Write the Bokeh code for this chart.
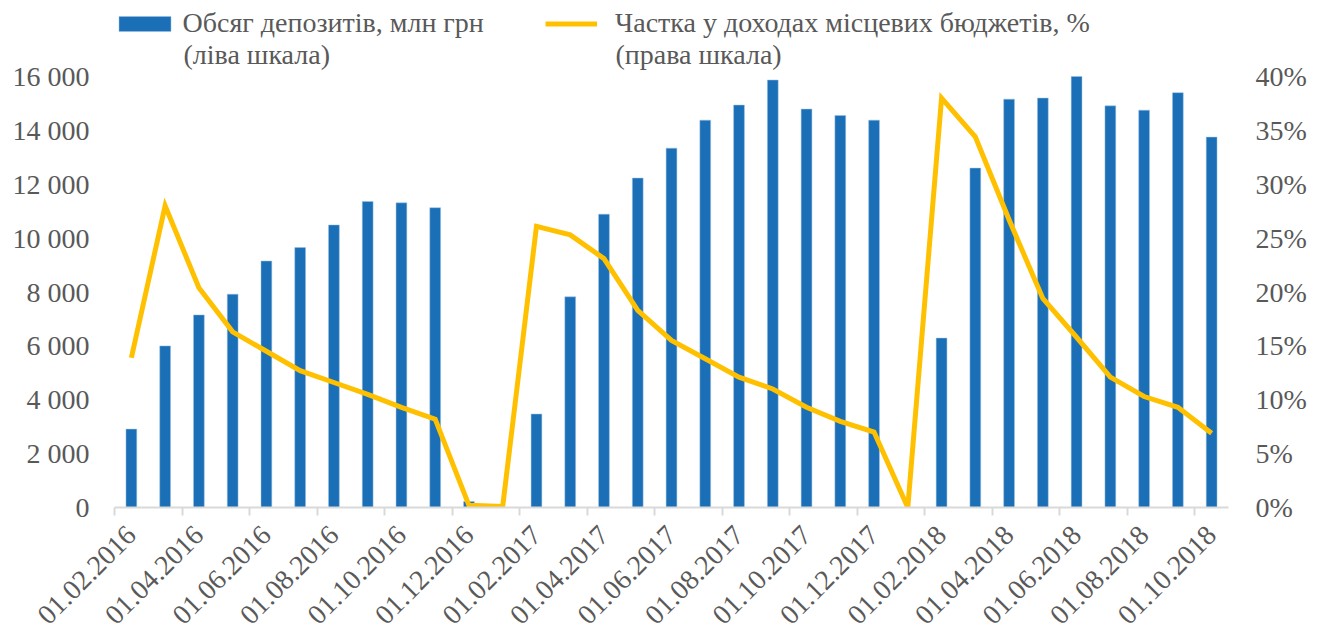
from math import pi
from bokeh.plotting import figure
from bokeh.models import (Range1d, LinearAxis, FixedTicker, Legend, LegendItem,
                          PrintfTickFormatter, ColumnDataSource, Label)
from bokeh.embed import file_html
from bokeh.resources import INLINE

dates = ["01.02.2016", "01.03.2016", "01.04.2016", "01.05.2016", "01.06.2016",
         "01.07.2016", "01.08.2016", "01.09.2016", "01.10.2016", "01.11.2016",
         "01.12.2016", "01.01.2017", "01.02.2017", "01.03.2017", "01.04.2017",
         "01.05.2017", "01.06.2017", "01.07.2017", "01.08.2017", "01.09.2017",
         "01.10.2017", "01.11.2017", "01.12.2017", "01.01.2018", "01.02.2018",
         "01.03.2018", "01.04.2018", "01.05.2018", "01.06.2018", "01.07.2018",
         "01.08.2018", "01.09.2018", "01.10.2018"]
deposits = [2910, 6000, 7150, 7920, 9150, 9650, 10490, 11360, 11310, 11130,
            220, 0, 3470, 7820, 10890, 12230, 13340, 14380, 14940, 15870,
            14790, 14550, 14380, 0, 6290, 12600, 15160, 15200, 16000, 14910,
            14750, 15400, 13750]
share = [13.9, 28.0, 20.4, 16.3, 14.5, 12.7, 11.6, 10.5, 9.3, 8.2,
         0.2, 0.1, 26.1, 25.3, 23.1, 18.3, 15.5, 13.8, 12.1, 11.0,
         9.3, 8.0, 7.0, 0.0, 38.0, 34.4, 26.7, 19.4, 15.8, 12.1,
         10.3, 9.3, 6.9]
left_ticks = [0, 2000, 4000, 6000, 8000, 10000, 12000, 14000, 16000]
right_ticks = [0, 5, 10, 15, 20, 25, 30, 35, 40]
bar_label = ["Обсяг депозитів, млн грн", "(ліва шкала)"]
line_label = ["Частка у доходах місцевих бюджетів, %", "(права шкала)"]

FONT = "Liberation Serif"
TXT = "#595959"
BLUE = "#1b6fb6"
GOLD = "#ffc000"

# layout: the plotting frame reaches the top of the canvas (legend lives inside
# it); the value axes keep their scale by extending the ranges above the top tick
FRAME_H = 507          # frame height in px (top of canvas to the category axis)
SCALE_H = 431          # px from the axis to the top tick (16 000 / 40%)
extend = FRAME_H / SCALE_H

idx = list(range(len(dates)))
src = ColumnDataSource(dict(x=idx, dep=deposits, sh=share))

p = figure(width=1321, height=635, output_backend="svg", toolbar_location=None,
           x_range=Range1d(-0.5, len(dates) - 0.5),
           y_range=Range1d(0, left_ticks[-1] * extend),
           min_border_left=114, min_border_right=93, min_border_top=0,
           min_border_bottom=635 - FRAME_H)
p.extra_y_ranges = {"pct": Range1d(0, right_ticks[-1] * extend)}
p.outline_line_color = None
p.grid.grid_line_color = None
p.xaxis.visible = False
p.yaxis.visible = False

bars = p.vbar(x="x", top="dep", width=0.32, source=src, fill_color=BLUE,
              line_color="#9dc3e6", line_width=0.5)
line = p.line(x="x", y="sh", source=src, y_range_name="pct", line_color=GOLD,
              line_width=5, line_join="miter")

xa = LinearAxis()
label_pos = list(range(0, len(dates), 2))
xa.ticker = FixedTicker(ticks=label_pos, minor_ticks=[i - 0.5 for i in label_pos])
xa.major_label_overrides = {i: dates[i] for i in label_pos}
xa.major_label_orientation = pi / 4
xa.major_tick_line_color = None
xa.major_tick_out = 8
xa.major_tick_in = 0
xa.minor_tick_line_color = "#d9d9d9"
xa.minor_tick_line_width = 2
xa.minor_tick_out = 8
xa.minor_tick_in = 0
xa.axis_line_color = "#d9d9d9"
xa.axis_line_width = 2
xa.major_label_text_font = FONT
xa.major_label_text_font_size = "28px"
xa.major_label_text_color = TXT
xa.major_label_standoff = 15
p.add_layout(xa, "below")

ya = LinearAxis()
ya.ticker = FixedTicker(ticks=left_ticks)
ya.major_label_overrides = {v: f"{v:,}".replace(",", " ") for v in left_ticks}
ya.axis_line_color = None
ya.major_tick_line_color = None
ya.minor_tick_line_color = None
ya.major_tick_out = 0
ya.major_label_standoff = 25
ya.major_label_text_font = FONT
ya.major_label_text_font_size = "28px"
ya.major_label_text_color = TXT
p.add_layout(ya, "left")

ra = LinearAxis(y_range_name="pct")
ra.ticker = FixedTicker(ticks=right_ticks)
ra.formatter = PrintfTickFormatter(format="%d%%")
ra.axis_line_color = None
ra.major_tick_line_color = None
ra.minor_tick_line_color = None
ra.major_tick_out = 0
ra.major_label_standoff = 27
ra.major_label_text_font = FONT
ra.major_label_text_font_size = "28px"
ra.major_label_text_color = TXT
p.add_layout(ra, "right")

# legend: one key per series, first line in the legend, second line beneath it
LEG_KW = dict(orientation="horizontal", padding=0, margin=0, spacing=0,
              border_line_color=None, background_fill_alpha=0,
              label_text_font=FONT, label_text_font_size="28px",
              label_text_color=TXT, label_height=34)
p.add_layout(Legend(items=[LegendItem(label=bar_label[0], renderers=[bars])],
                    location=(-2.5, 467), glyph_width=65, glyph_height=19,
                    label_standoff=6, **LEG_KW), "center")
p.add_layout(Legend(items=[LegendItem(label=line_label[0], renderers=[line])],
                    location=(431, 467), glyph_width=52, glyph_height=19,
                    label_standoff=18, **LEG_KW), "center")
for txt, sx in ((bar_label[1], 69), (line_label[1], 501)):
    p.add_layout(Label(x=sx, y=507 - 54, x_units="screen", y_units="screen",
                       text=txt, text_font=FONT, text_font_size="28px",
                       text_color=TXT, text_baseline="middle"))

open("out.html", "w").write(file_html(p, INLINE))
